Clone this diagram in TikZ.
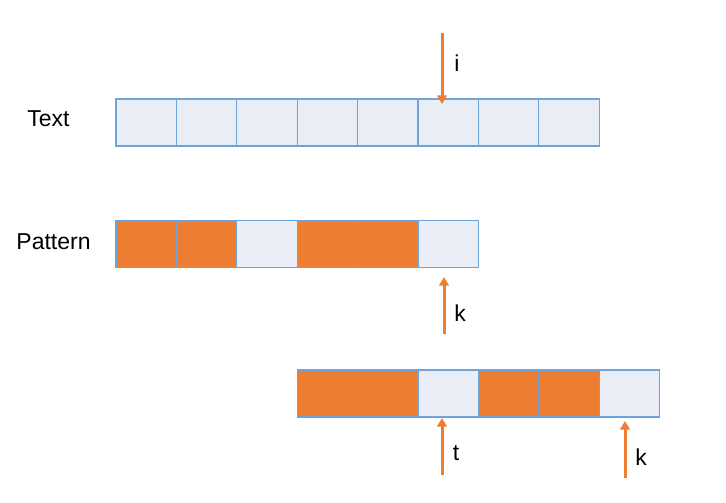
\documentclass[tikz,border=0pt]{standalone}
\usepackage{xcolor}
\usepackage{fontspec}
\setmainfont{Liberation Sans}
\usetikzlibrary{arrows.meta}

\definecolor{cellfill}{HTML}{E9EDF6}
\definecolor{cellline}{HTML}{6FA3DB}
\definecolor{hit}{HTML}{ED7D31}

\tikzset{
    cell/.style={shape=rectangle,draw=cellline,fill=cellfill,line width=1.1pt,
        minimum width=60.4pt,minimum height=47pt,inner sep=0pt},
    hitcell/.style={cell,fill=hit},
    ptr/.style={draw=hit,line width=3pt,-{Triangle[width=9.5pt,length=8.5pt]}},
    lbl/.style={font=\fontsize{23}{27}\selectfont,inner sep=0pt}
}

\begin{document}
\begin{tikzpicture}[x=1pt,y=-1pt]
                    \useasboundingbox (0,0) rectangle (726,503);

                    \node[lbl] (textlbl) at (48.5,119) {Text};
                    \node[lbl] (patlbl) at (53.5,242) {Pattern};

                    \node[cell] (T1) at (146.2,122.5) {};
                    \node[cell] (T2) at (206.6,122.5) {};
                    \node[cell] (T3) at (267.0,122.5) {};
                    \node[cell] (T4) at (327.4,122.5) {};
                    \node[cell] (T5) at (387.8,122.5) {};
                    \node[cell] (T6) at (448.2,122.5) {};
                    \node[cell] (T7) at (508.6,122.5) {};
                    \node[cell] (T8) at (569.0,122.5) {};

                    \node[hitcell] (P1) at (146.2,244) {};
                    \node[hitcell] (P2) at (206.6,244) {};
                    \node[cell] (P3) at (267.0,244) {};
                    \node[hitcell] (P4) at (327.4,244) {};
                    \node[hitcell] (P5) at (387.8,244) {};
                    \node[cell] (P6) at (448.2,244) {};

                    \node[hitcell] (S1) at (327.4,393.5) {};
                    \node[hitcell] (S2) at (387.8,393.5) {};
                    \node[cell] (S3) at (448.2,393.5) {};
                    \node[hitcell] (S4) at (508.6,393.5) {};
                    \node[hitcell] (S5) at (569.0,393.5) {};
                    \node[cell] (S6) at (629.4,393.5) {};

                    \coordinate (itail) at (442,33);
                    \coordinate (ihead) at (442,104);
                    \coordinate (ktail) at (444,334);
                    \coordinate (khead) at (444,277);
                    \coordinate (ttail) at (442,475);
                    \coordinate (thead) at (442,418);
                    \coordinate (k2tail) at (625,478);
                    \coordinate (k2head) at (625,421);

                    \draw[ptr] (itail) -- (ihead);
                    \draw[ptr] (ktail) -- (khead);
                    \draw[ptr] (ttail) -- (thead);
                    \draw[ptr] (k2tail) -- (k2head);

                    \node[lbl] (ilbl) at (457,63) {i};
                    \node[lbl] (klbl) at (460,313) {k};
                    \node[lbl] (tlbl) at (456,453) {t};
                    \node[lbl] (k2lbl) at (641,457) {k};
                \end{tikzpicture}
\end{document}
